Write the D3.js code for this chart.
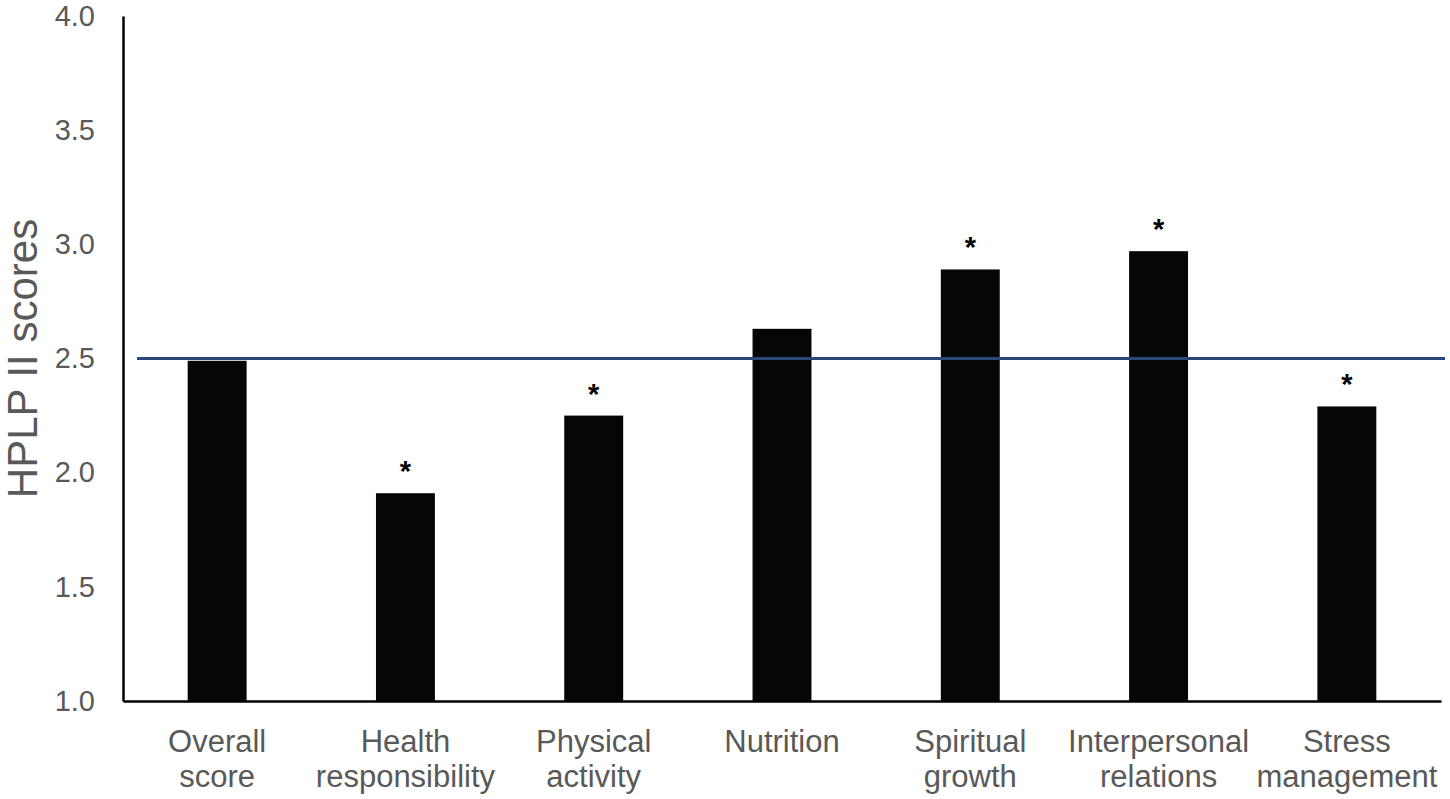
<!DOCTYPE html>
<html>
<head>
<meta charset="utf-8">
<script src="https://cdn.jsdelivr.net/npm/d3@7"></script>
<style>
    body { margin: 0; background: #fff; }
    svg { display: block; font-family: "Liberation Sans", Arial, sans-serif; }
</style>
</head>
<body>
<div id="chart"></div>
<script>
// Chart values
const categories = [
    ['Overall', 'score'],
    ['Health', 'responsibility'],
    ['Physical', 'activity'],
    ['Nutrition'],
    ['Spiritual', 'growth'],
    ['Interpersonal', 'relations'],
    ['Stress', 'management']
];
const scores = [2.49, 1.91, 2.25, 2.63, 2.89, 2.97, 2.29];
const significant = [false, true, true, false, true, true, true];
const yTicks = [1.0, 1.5, 2.0, 2.5, 3.0, 3.5, 4.0];
const referenceScore = 2.5;
const yTitle = 'HPLP II scores';

class ScoreChart {
    constructor(containerId) {
        this.container = document.getElementById(containerId);
        this.width = 1450;
        this.height = 799;
        this.margin = { top: 16, right: 9, bottom: 98, left: 123 };
        this.labelColor = '#595959';

        this.svg = d3.select(this.container)
            .append('svg')
            .attr('width', this.width)
            .attr('height', this.height);

        this.draw();
    }

    draw() {
        const data = categories.map((c, i) => ({
            key: c.join(' '),
            lines: c,
            value: scores[i],
            star: significant[i]
        }));

        const x = d3.scaleBand()
            .domain(data.map(d => d.key))
            .range([this.margin.left, this.width - this.margin.right])
            .paddingInner(0.687)
            .paddingOuter(0.3435);

        const y = d3.scaleLinear()
            .domain([1, 4])
            .range([this.height - this.margin.bottom, this.margin.top]);

        // bars
        this.svg.selectAll('.bar')
            .data(data)
            .enter()
            .append('rect')
            .attr('class', 'bar')
            .attr('x', d => x(d.key))
            .attr('width', x.bandwidth())
            .attr('y', d => y(d.value))
            .attr('height', d => y(1) - y(d.value))
            .attr('fill', '#060606');

        // asterisks for significant differences
        this.svg.selectAll('.star')
            .data(data.filter(d => d.star))
            .enter()
            .append('text')
            .attr('class', 'star')
            .attr('x', d => x(d.key) + x.bandwidth() / 2)
            .attr('y', d => y(d.value) - 12)
            .attr('text-anchor', 'middle')
            .style('font-size', '29px')
            .style('font-weight', 'bold')
            .style('fill', '#000')
            .text('*');

        // reference line
        const [x0, x1] = x.range();
        this.svg.append('line')
            .attr('x1', x0 + 14)
            .attr('x2', x1 + 4)
            .attr('y1', y(referenceScore))
            .attr('y2', y(referenceScore))
            .attr('stroke', '#284878')
            .attr('stroke-width', 3);

        // y axis
        const yAxis = this.svg.append('g')
            .attr('transform', `translate(${this.margin.left},0)`)
            .call(d3.axisLeft(y)
                .tickValues(yTicks)
                .tickFormat(d3.format('.1f'))
                .tickSize(0)
                .tickPadding(28));
        yAxis.select('.domain').attr('stroke', '#000').attr('stroke-width', 2.5);
        yAxis.selectAll('text')
            .style('font-size', '29px')
            .style('font-family', '"Liberation Sans", Arial, sans-serif')
            .attr('fill', this.labelColor);

        // x axis
        const xAxis = this.svg.append('g')
            .attr('transform', `translate(0,${y(1)})`)
            .call(d3.axisBottom(x).tickSize(0).tickSizeOuter(0));
        xAxis.select('.domain').attr('stroke', '#000').attr('stroke-width', 2.5);
        xAxis.selectAll('.tick text').each(function(key) {
            const lines = data.find(d => d.key === key).lines;
            const t = d3.select(this)
                .text(null)
                .attr('y', 51)
                .attr('dy', null)
                .style('font-size', '31px')
                .style('font-family', '"Liberation Sans", Arial, sans-serif')
                .attr('fill', '#595959');
            lines.forEach((line, i) => {
                t.append('tspan')
                    .attr('x', 0)
                    .attr('y', 51 + i * 35)
                    .text(line);
            });
        });

        // y title
        this.svg.append('text')
            .attr('transform', `translate(37,${(y(1) + y(4)) / 2}) rotate(-90)`)
            .attr('text-anchor', 'middle')
            .style('font-size', '42px')
            .attr('fill', this.labelColor)
            .text(yTitle);
    }
}

document.addEventListener('DOMContentLoaded', () => {
    try {
        new ScoreChart('chart');
    } catch (error) {
        console.error('Error drawing chart:', error);
    }
});
</script>
</body>
</html>
